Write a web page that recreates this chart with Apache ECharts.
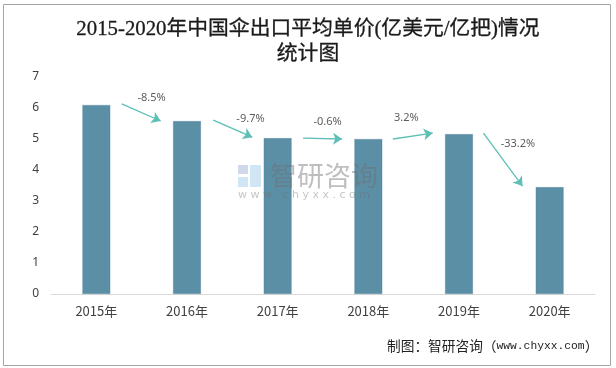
<!DOCTYPE html>
<html>
<head>
<meta charset="utf-8">
<script src="https://cdn.jsdelivr.net/npm/echarts@6/dist/echarts.min.js"></script>
<style>
html,body{margin:0;padding:0;background:#fff;}
#c{width:616px;height:368px;}
</style>
</head>
<body>
<div id="c"></div>
<script>
var categories = ['2015年','2016年','2017年','2018年','2019年','2020年'];
var prices = [6.10, 5.58, 5.03, 5.00, 5.16, 3.45];
var growthLabels = ['-8.5%','-9.7%','-0.6%','3.2%','-33.2%'];
var arrowStarts = [[0.28,6.13],[1.29,5.61],[2.28,5.03],[3.27,5.00],[4.27,5.19]];
var arrowEnds = [[0.71,5.58],[1.72,5.06],[2.71,5.00],[3.71,5.19],[4.70,3.48]];
var labelPoints = [[0.61,6.32],[1.70,5.65],[2.55,5.55],[3.42,5.68],[4.65,4.84]];
var yTicks = {min:0, max:7, interval:1};

var chart = echarts.init(document.getElementById('c'), null, {renderer:'canvas'});
var arrowData = arrowStarts.map(function(s,i){ return {coords:[s, arrowEnds[i]]}; });
var labelData = labelPoints.map(function(p,i){ return {name: growthLabels[i], value: p}; });

chart.setOption({
  animation:false,
  backgroundColor:'#fff',
  title:{
    text:'2015-2020年中国伞出口平均单价(亿美元/亿把)情况\n统计图',
    left:'center', top:12,
    textStyle:{fontFamily:'"Liberation Serif","Noto Sans CJK SC",serif', fontSize:20.8, fontWeight:'normal', color:'#1a1a1a', lineHeight:25,
      textBorderColor:'#1a1a1a', textBorderWidth:0.3}
  },
  graphic:[
    {type:'rect', left:1, top:2, shape:{width:607, height:361}, style:{fill:'none', stroke:'#a6a6a6', lineWidth:1}, silent:true},
    {type:'text', left:270, top:162, z:100, style:{text:'智研咨询', font:'27px "Noto Sans CJK SC"', fill:'rgba(110,110,110,0.45)'}},
    {type:'text', left:238, top:190, z:100, style:{text:'w w w . c h y x x . c o m', font:'11px "DejaVu Sans"', fill:'rgba(110,110,110,0.4)'}},
    {type:'rect', left:238, top:165, z:100, shape:{width:10, height:9}, style:{fill:'rgba(150,170,210,0.45)'}},
    {type:'rect', left:250, top:165, z:100, shape:{width:11, height:22}, style:{fill:'rgba(150,200,230,0.45)'}},
    {type:'rect', left:238, top:177, z:100, shape:{width:10, height:10}, style:{fill:'rgba(150,200,230,0.45)'}},
    {type:'text', left:387, top:339, style:{
      rich:{c:{font:'13.7px "Noto Sans CJK SC"', fill:'#222'}, m:{font:'11.3px "Liberation Mono"', fill:'#222'}},
      text:'{c|制图：智研咨询（}{m|www.chyxx.com}{c|）}'}}
  ],
  grid:{left:51, right:21, top:77, bottom:74},
  xAxis:[
    {type:'category', data:categories, axisLine:{lineStyle:{color:'#d9d9d9'}}, axisTick:{show:false},
     axisLabel:{fontSize:13, color:'#404040', margin:11, fontFamily:'"Noto Sans CJK SC"'}},
    {type:'value', min:-0.5, max:5.5, show:false}
  ],
  yAxis:{type:'value', min:yTicks.min, max:yTicks.max, interval:yTicks.interval,
    splitLine:{show:false}, axisLine:{show:false}, axisTick:{show:false},
    axisLabel:{fontSize:12, color:'#404040', margin:12, fontFamily:'"Noto Sans"'}},
  series:[
    {type:'bar', data:prices, barWidth:28, itemStyle:{color:'#5b8fa6', borderColor:'#4f7f96', borderWidth:0.5, borderType:'dotted'}},
    {type:'lines', coordinateSystem:'cartesian2d', xAxisIndex:1, yAxisIndex:0, data:arrowData,
     symbol:['none','arrow'], symbolSize:[0,9], lineStyle:{color:'#5dbfb6', width:1.3, opacity:1}},
    {type:'scatter', xAxisIndex:1, yAxisIndex:0, data:labelData, symbolSize:0,
     label:{show:true, position:'inside', formatter:'{b}', fontSize:11, color:'#333', fontFamily:'"Noto Sans"'}}
  ]
});
</script>
</body>
</html>
